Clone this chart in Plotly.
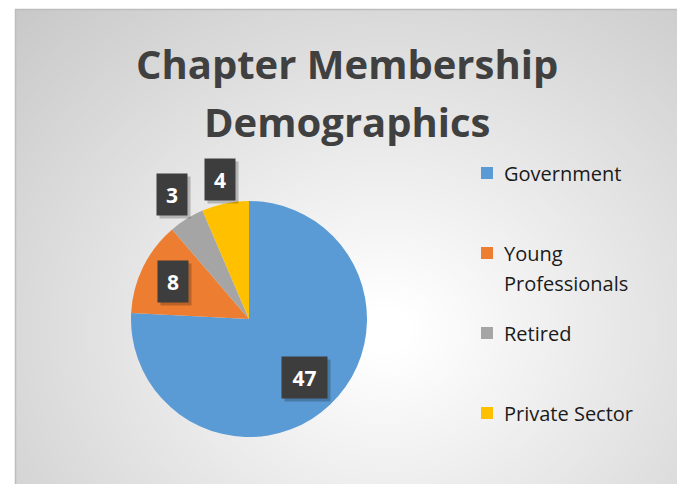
import base64
import math
import struct
import textwrap
import zlib

import numpy as np
import plotly.graph_objects as go

# ---- data ----
categories = ["Government", "Young Professionals", "Retired", "Private Sector"]
members = [47, 8, 3, 4]
slice_colors = ["#5B9BD5", "#ED7D31", "#A5A5A5", "#FFC000"]
title_lines = ["Chapter Membership", "Demographics"]

# ---- style / layout constants ----
W, H = 677, 484
CX, CY, R = 249, 319, 118          # pie centre and radius (px)
label_radius = [0.68, 0.72, 1.24, 1.21]  # label distance as fraction of radius
CHART_X0, CHART_Y0 = 15, 9          # chart-area top-left (px)


def px_x(x):
    return x / W


def px_y(y):
    return 1 - y / H


# ---- radial gradient background as PNG ----
def png_gray(arr):
    h, w = arr.shape
    raw = b"".join(b"\x00" + arr[i].tobytes() for i in range(h))

    def chunk(t, d):
        c = struct.pack(">I", len(d)) + t + d
        return c + struct.pack(">I", zlib.crc32(t + d) & 0xFFFFFFFF)

    ihdr = struct.pack(">IIBBBBB", w, h, 8, 0, 0, 0, 0)
    return (b"\x89PNG\r\n\x1a\n" + chunk(b"IHDR", ihdr)
            + chunk(b"IDAT", zlib.compress(raw, 9)) + chunk(b"IEND", b""))


gw, gh = W - CHART_X0, H - CHART_Y0
yy, xx = np.mgrid[0:gh, 0:gw]
xx = xx + CHART_X0
yy = yy + CHART_Y0
dist = np.sqrt(((xx - 385) * 1.0) ** 2 + ((yy - 330) * 1.15) ** 2)
gray = np.clip(258 - 0.11 * dist, 194, 255).astype(np.uint8)
bg_uri = "data:image/png;base64," + base64.b64encode(png_gray(gray)).decode()

# ---- figure ----
fig = go.Figure(
    go.Pie(
        labels=categories,
        values=members,
        marker=dict(colors=slice_colors, line=dict(width=0)),
        sort=False,
        direction="clockwise",
        rotation=0,
        textinfo="none",
        hoverinfo="label+value+percent",
        showlegend=False,
        domain=dict(x=[px_x(CX - R), px_x(CX + R)],
                    y=[px_y(CY + R), px_y(CY - R)]),
    )
)

annotations = []
shapes = []

# data labels (dark boxes) placed at slice mid-angles
total = sum(members)
start = 0.0
for val, frac in zip(members, label_radius):
    ang = math.radians((start + val / 2) / total * 360)
    start += val
    d = frac * R
    lx = CX + d * math.sin(ang)
    ly = CY - d * math.cos(ang)
    txt = str(val)
    bw = 15 + 15 * len(txt)
    # shadow
    annotations.append(dict(
        x=px_x(lx), y=px_y(ly), xref="paper", yref="paper", text=" ",
        showarrow=False, width=bw, height=41, bgcolor="rgba(0,0,0,0.22)",
        borderpad=0, xshift=3, yshift=-3, xanchor="center", yanchor="middle"))
    annotations.append(dict(
        x=px_x(lx), y=px_y(ly), xref="paper", yref="paper",
        text=f"<b>{txt}</b>", showarrow=False, width=bw, height=41,
        bgcolor="#3d3d3d", borderpad=0, xanchor="center", yanchor="middle",
        font=dict(family="Open Sans", size=21, color="white")))

# title
for i, line in enumerate(title_lines):
    annotations.append(dict(
        x=px_x(347), y=px_y(63 + 58 * i), xref="paper", yref="paper",
        text=f"<b>{line}</b>", showarrow=False, xanchor="center",
        yanchor="middle",
        font=dict(family="Open Sans", size=40, color="#404040")))

# legend (built manually to match spacing)
for i, (lab, col) in enumerate(zip(categories, slice_colors)):
    yc = 173 + 80 * i
    shapes.append(dict(type="rect", xref="paper", yref="paper",
                       x0=px_x(481), x1=px_x(493),
                       y0=px_y(yc + 6), y1=px_y(yc - 6),
                       fillcolor=col, line=dict(width=0)))
    for j, part in enumerate(textwrap.wrap(lab, 14)):
        annotations.append(dict(
            x=px_x(502), y=px_y(yc + 30 * j), xref="paper", yref="paper",
            text=part, showarrow=False, xanchor="left", yanchor="middle",
            font=dict(family="Open Sans", size=20, color="#1a1a1a")))

# chart-area border
shapes.append(dict(type="rect", xref="paper", yref="paper",
                   x0=px_x(CHART_X0 + 0.5), x1=1.01, y0=-0.01,
                   y1=px_y(CHART_Y0 + 0.5),
                   line=dict(color="#bdbdbd", width=1.5),
                   fillcolor="rgba(0,0,0,0)"))

fig.update_layout(
    width=W, height=H,
    margin=dict(l=0, r=0, t=0, b=0),
    paper_bgcolor="white",
    annotations=annotations,
    shapes=shapes,
    images=[dict(source=bg_uri, xref="paper", yref="paper",
                 x=px_x(CHART_X0), y=px_y(CHART_Y0),
                 sizex=gw / W, sizey=gh / H, xanchor="left", yanchor="top",
                 sizing="stretch", layer="below")],
)

fig.write_html(
    "out.html",
    config={"displayModeBar": False},
    post_script="document.body.style.margin='0';"
                "document.body.style.overflow='hidden';",
)
